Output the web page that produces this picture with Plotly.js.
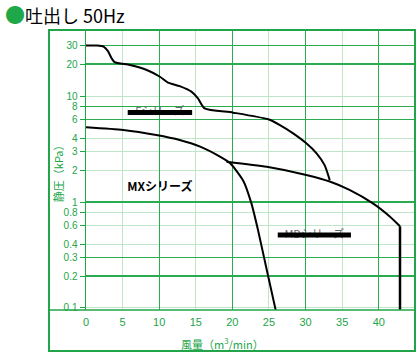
<!DOCTYPE html>
<html><head><meta charset="utf-8">
<script src="https://cdn.plot.ly/plotly-3.0.1.min.js"></script>
<style>html,body{margin:0;padding:0;background:#fff}#c{width:420px;height:355px}</style>
</head><body><div id="c"></div>
<script>
// Series F (top, stepped)
const fFlow = [0, 1.5, 2.4, 3.0, 3.5, 3.9, 6.0, 8.3, 10.1, 11.2, 12.8, 14.4, 15.3, 16.2, 20.1, 24.9, 26.5, 28.3, 30.1, 31.5, 32.6, 33.3];
const fPres = [30, 30, 29.3, 26.5, 22.7, 20.9, 19.6, 17.6, 15.2, 13.4, 12.4, 11, 9.5, 7.66, 6.97, 6.03, 5.32, 4.44, 3.58, 2.88, 2.23, 1.61];
// MX series
const mxFlow = [0, 5.1, 9.6, 12.8, 15.6, 18.3, 19.7, 21.5, 22.6, 23.5, 24.7, 26.0];
const mxPres = [5.07, 4.78, 4.29, 3.85, 3.33, 2.68, 2.32, 1.58, 0.97, 0.544, 0.228, 0.09];
// MD series
const mdFlow = [19.2, 24.7, 30.1, 33.3, 36.0, 39.2, 41.5, 42.9, 42.9];
const mdPres = [2.4, 2.15, 1.8, 1.56, 1.3, 0.97, 0.73, 0.59, 0.09];

// axis ticks
const xTicks = [0, 5, 10, 15, 20, 25, 30, 35, 40];
const xMajor = [10, 20, 30, 40];
const yTicks = [30, 20, 10, 8, 6, 4, 3, 2, 1, 0.8, 0.6, 0.4, 0.3, 0.2, 0.1];
const yTickText = ['30', '20', '10', '8', '6', '4', '3', '2', '1', '0.8', '0.6', '0.4', '0.3', '0.2', '0.1'];
const yMajor = [30, 20, 8, 6, 1, 0.3, 0.2];

// series labels
const labelNames = ['MXシリーズ', 'Fシリーズ', 'MDシリーズ'];
const labelFlow = [10.1, 10.1, 31.2];
const labelPres = [1.36, 7.0, 0.489];
const barFFlow = [5.7, 14.5];
const barFPres = [7.0, 7.0];
const barMDFlow = [26.2, 36.2];
const barMDPres = [0.489, 0.489];

const G = '#22a548', GD = '#2aab50', GL = '#bfe6c9';
const xr = [0, 44.95];
const yr = [-1.019, 1.623];
const curve = {color: '#000', width: 2, shape: 'spline', smoothing: 0.6};

const traces = [
  {x: fFlow, y: fPres, mode: 'lines', line: curve},
  {x: mxFlow, y: mxPres, mode: 'lines', line: curve},
  {x: mdFlow.slice(0, -1), y: mdPres.slice(0, -1), mode: 'lines', line: curve},
  {x: mdFlow.slice(-2), y: mdPres.slice(-2), mode: 'lines', line: {color: '#000', width: 2.5}},
  {x: labelFlow.slice(1), y: labelPres.slice(1), mode: 'text', text: labelNames.slice(1),
   textfont: {family: 'Noto Sans CJK JP', size: 11, color: '#666'}},
  {x: barFFlow, y: barFPres, mode: 'lines', line: {color: '#000', width: 5}},
  {x: barMDFlow, y: barMDPres, mode: 'lines', line: {color: '#000', width: 5}},
  {x: labelFlow.slice(0, 1), y: labelPres.slice(0, 1), mode: 'text', text: labelNames.slice(0, 1),
   textfont: {family: 'Noto Sans CJK JP', size: 12, color: '#000', weight: 'bold'}},
  {x: [], y: [], xaxis: 'x2', yaxis: 'y2', mode: 'lines'}
];

const layout = {
  width: 420, height: 355,
  margin: {l: 86, r: 5, t: 30, b: 45},
  showlegend: false,
  paper_bgcolor: '#fff', plot_bgcolor: 'rgba(0,0,0,0)',
  xaxis: {range: xr, tickmode: 'array', tickvals: xTicks, showgrid: true, gridcolor: GL, gridwidth: 1,
    zeroline: false, showline: false, ticks: 'outside', ticklen: 2, tickcolor: 'rgba(0,0,0,0)',
    tickfont: {family: 'Liberation Sans Narrow, Arial Narrow, sans-serif', size: 11, color: G}},
  yaxis: {type: 'log', range: yr, tickmode: 'array', tickvals: yTicks, ticktext: yTickText,
    showgrid: true, gridcolor: GL, gridwidth: 1, zeroline: false,
    showline: true, linecolor: G, linewidth: 1.5, ticks: 'outside', ticklen: 5, tickcolor: G, tickwidth: 1,
    tickfont: {family: 'Liberation Sans Narrow, Arial Narrow, sans-serif', size: 10, color: G}},
  xaxis2: {overlaying: 'x', range: xr, tickmode: 'array', tickvals: xMajor, showgrid: true, gridcolor: GD,
    gridwidth: 1.3, showticklabels: false, ticks: '', zeroline: false, showline: false},
  yaxis2: {overlaying: 'y', type: 'log', range: yr, tickmode: 'array', tickvals: yMajor, showgrid: true,
    gridcolor: GD, gridwidth: 1.3, showticklabels: false, ticks: '', zeroline: false, showline: false},
  shapes: [
    {type: 'rect', xref: 'paper', yref: 'paper', x0: -0.1125, x1: 1.0, y0: -0.146, y1: 1.0,
     line: {color: G, width: 2}, layer: 'above'},
    {type: 'line', xref: 'paper', yref: 'paper', x0: -0.1125, x1: 1.0, y0: 0, y1: 0,
     line: {color: G, width: 1.5}, layer: 'above'}
  ],
  annotations: [
    {xref: 'paper', yref: 'paper', x: -0.252, y: 1.055, xanchor: 'left', yanchor: 'middle', showarrow: false,
     text: '<span style="color:#1fa84a;font-size:20px">●</span>吐出し 50Hz',
     font: {family: 'Noto Sans CJK JP', size: 18, color: '#000'}},
    {xref: 'paper', yref: 'paper', x: -0.085, y: 0.496, textangle: -90, showarrow: false,
     xanchor: 'center', yanchor: 'middle', text: '静圧（kPa）',
     font: {family: 'Noto Sans CJK JP', size: 11, color: G}},
    {xref: 'paper', yref: 'paper', x: 0.416, y: -0.121, showarrow: false,
     xanchor: 'center', yanchor: 'middle', text: '風量（m<sup>3</sup>/min）',
     font: {family: 'Noto Sans CJK JP', size: 11, color: G}}
  ]
};

Plotly.newPlot('c', traces, layout, {displayModeBar: false, staticPlot: true});
</script></body></html>
